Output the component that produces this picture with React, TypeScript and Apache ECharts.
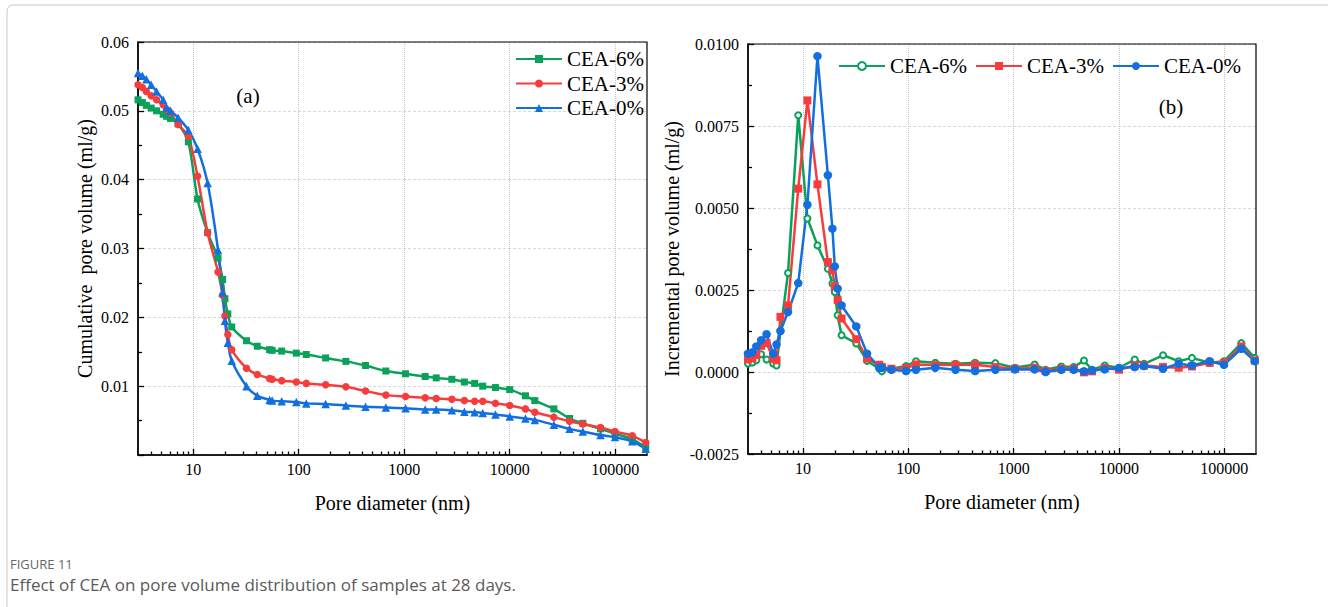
import React, { useEffect, useRef } from "react";
import * as echarts from "echarts";

// Pore diameters (nm) shared by every curve
const diameters = [
  3.0, 3.3, 3.6, 4.0, 4.5, 5.2, 5.6, 6.1, 7.2, 9.0, 11.0, 13.7, 17.2, 19.0, 20.0, 21.3, 23.2, 32, 40.5, 53, 56, 69, 95,
  118, 180, 280, 430, 670, 1030, 1580, 2010, 2830, 3720, 4650, 5550, 7320, 10000, 14100, 17300, 26200, 36900, 49300,
  72600, 99300, 145000, 194500,
];

// (a) Cumulative pore volume (ml/g)
const cumCEA6 = [
  0.0516, 0.0512, 0.0508, 0.0504, 0.05, 0.0495, 0.0492, 0.0489, 0.0481, 0.0455, 0.0372, 0.0323, 0.0286, 0.0255, 0.0227,
  0.0205, 0.0186, 0.0166, 0.0158, 0.0153, 0.0152, 0.0151, 0.0148, 0.0146, 0.0141, 0.0136, 0.013, 0.0122, 0.0118,
  0.0114, 0.0112, 0.011, 0.0106, 0.0104, 0.01, 0.0098, 0.0095, 0.0086, 0.0079, 0.0067, 0.0053, 0.0046, 0.0038, 0.0031,
  0.0023, 0.0011,
];
const cumCEA3 = [
  0.0538, 0.0534, 0.0528, 0.0522, 0.0516, 0.0509, 0.0502, 0.0497, 0.048, 0.0463, 0.0405, 0.0323, 0.0266, 0.0232, 0.0202,
  0.0175, 0.0153, 0.0126, 0.0117, 0.0111, 0.011, 0.0108, 0.0106, 0.0104, 0.0102, 0.0099, 0.0093, 0.0087, 0.0085,
  0.0083, 0.0082, 0.0081, 0.0079, 0.0078, 0.0078, 0.0075, 0.0072, 0.0067, 0.0062, 0.0055, 0.0049, 0.0045, 0.004,
  0.0034, 0.0028, 0.0018,
];
const cumCEA0 = [
  0.0555, 0.0551, 0.0546, 0.0538, 0.0528, 0.0516, 0.0505, 0.05, 0.049, 0.0472, 0.0445, 0.0395, 0.0298, 0.0236, 0.0195,
  0.0163, 0.0137, 0.01, 0.0086, 0.008, 0.0079, 0.0078, 0.0077, 0.0075, 0.0074, 0.0072, 0.007, 0.0069, 0.0068, 0.0066,
  0.0066, 0.0065, 0.0063, 0.0062, 0.0061, 0.0059, 0.0056, 0.0053, 0.0051, 0.0044, 0.0038, 0.0034, 0.0029, 0.0026, 0.002,
  0.0009,
];

// (b) Incremental pore volume (ml/g)
const incCEA6 = [
  0.00026, 0.00029, 0.00036, 0.00054, 0.00038, 0.00026, 0.0002, 0.00125, 0.00302, 0.00783, 0.00468, 0.00386, 0.00315,
  0.0027, 0.00244, 0.00173, 0.00112, 0.00087, 0.00034, 0.0001, 0.00002, 0.0001, 0.00018, 0.00033, 0.00028, 0.00025,
  0.00028, 0.00027, 0.00013, 0.00023, 0.00007, 0.00017, 0.00015, 0.00035, 0.00007, 0.0002, 0.00013, 0.00038, 0.00025,
  0.00051, 0.00033, 0.00043, 0.00028, 0.00033, 0.00088, 0.00043,
];
const incCEA3 = [
  0.00038, 0.00042, 0.00052, 0.0008, 0.00088, 0.0004, 0.00036, 0.00168, 0.00203, 0.00559, 0.00828, 0.00572, 0.00335,
  0.0031, 0.00262, 0.00219, 0.00163, 0.001, 0.00041, 0.00022, 0.00015, 0.0001, 0.00012, 0.00023, 0.00021, 0.00022,
  0.00022, 0.00015, 0.0001, 0.00013, 0.00003, 0.0001, 0.0001, -0.00001, 0.00002, 0.00012, 0.00007, 0.0002, 0.0002,
  0.00015, 0.00013, 0.00017, 0.00028, 0.00028, 0.00078, 0.00035,
];
const incCEA0 = [
  0.00056, 0.0006, 0.00078, 0.00097, 0.00115, 0.00056, 0.00084, 0.00125, 0.00183, 0.00271, 0.0051, 0.00963, 0.006,
  0.00437, 0.00322, 0.00254, 0.00203, 0.00139, 0.00056, 0.00013, 0.00013, 0.00007, 0.00003, 0.00007, 0.00013, 0.00007,
  0.00003, 0.00007, 0.00008, 0.00008, 0.0, 0.00007, 0.00007, 0.00002, 0.00005, 0.00008, 0.00012, 0.00015, 0.00018,
  0.0001, 0.00025, 0.0002, 0.00033, 0.00022, 0.00071, 0.00033,
];

const seriesNames = ["CEA-6%", "CEA-3%", "CEA-0%"];
const xTickValues = [10, 100, 1000, 10000, 100000];
const xMin = 3;
const xMax = 200000;

const GREEN = "#0aa15a";
const RED = "#f73c3c";
const BLUE = "#126fe0";
const SERIF = "'Liberation Serif', 'Times New Roman', serif";
const SANS = "'Open Sans', 'Noto Sans', sans-serif";

const minorXTicks: number[] = [];
for (let p = 1; p <= 100000; p *= 10) {
  for (let m = 2; m <= 9; m++) {
    const v = m * p;
    if (v > xMin && v < xMax) minorXTicks.push(v);
  }
}

const pairs = (xs: number[], ys: number[]) => xs.map((x, i) => [x, ys[i]]);

const black = { color: "#000", width: 1.3 };

function majorX(grid: number) {
  return {
    type: "log",
    gridIndex: grid,
    logBase: 10,
    min: xMin,
    max: xMax,
    position: "bottom",
    name: "Pore diameter (nm)",
    nameLocation: "middle",
    nameGap: 38,
    nameTextStyle: { fontFamily: SERIF, fontSize: 20, color: "#000" },
    axisLine: { show: true, onZero: false, lineStyle: { color: "#000", width: 1.5 } },
    axisTick: { show: true, inside: true, length: 6, customValues: xTickValues, lineStyle: black },
    axisLabel: {
      show: true,
      customValues: xTickValues,
      formatter: (v: number) => String(Math.round(v)),
      fontFamily: SERIF,
      fontSize: 16,
      color: "#000",
      margin: 6,
    },
    splitLine: { show: true, lineStyle: { color: "#c4c4c4", type: "dotted", width: 1 } },
    minorTick: { show: false },
    minorSplitLine: { show: false },
  };
}

function minorX(grid: number) {
  return {
    type: "log",
    gridIndex: grid,
    logBase: 10,
    min: xMin,
    max: xMax,
    position: "bottom",
    axisLine: { show: false, onZero: false },
    axisLabel: { show: false },
    axisTick: { show: true, inside: true, length: 3.5, customValues: minorXTicks, lineStyle: black },
    splitLine: { show: false },
  };
}

export default function App() {
  const ref = useRef<HTMLDivElement>(null);

  useEffect(() => {
    if (!ref.current) return;
    const chart = echarts.init(ref.current, undefined, { renderer: "svg" });

    const option: any = {
      animation: false,
      backgroundColor: "#fff",
      grid: [
        {
          left: 138,
          top: 42,
          width: 509,
          height: 413,
          show: true,
          z: 1,
          borderColor: "#000",
          borderWidth: 1.2,
          containLabel: false,
          outerBoundsMode: "none",
        },
        {
          left: 748,
          top: 44,
          width: 508,
          height: 410,
          show: true,
          z: 1,
          borderColor: "#000",
          borderWidth: 1.2,
          containLabel: false,
          outerBoundsMode: "none",
        },
      ],
      xAxis: [majorX(0), minorX(0), majorX(1), minorX(1)],
      yAxis: [
        {
          type: "value",
          gridIndex: 0,
          min: 0,
          max: 0.06,
          interval: 0.01,
          name: "Cumulative  pore volume (ml/g)",
          nameLocation: "middle",
          nameGap: 43,
          nameTextStyle: { fontFamily: SERIF, fontSize: 20, color: "#000" },
          axisLine: { show: true, onZero: false, lineStyle: { color: "#000", width: 1.5 } },
          axisTick: { show: true, inside: true, length: 6, lineStyle: black },
          minorTick: { show: true, splitNumber: 2, length: 4, lineStyle: black },
          axisLabel: {
            formatter: (v: number) => (Math.abs(v) < 1e-9 ? "" : v.toFixed(2)),
            fontFamily: SERIF,
            fontSize: 16,
            color: "#000",
            margin: 9,
          },
          splitLine: { show: true, lineStyle: { color: "#d8d8d8", width: 1, type: [3, 2] } },
        },
        {
          type: "value",
          gridIndex: 1,
          min: -0.0025,
          max: 0.01,
          interval: 0.0025,
          name: "Incremental pore volume (ml/g)",
          nameLocation: "middle",
          nameGap: 66,
          nameTextStyle: { fontFamily: SERIF, fontSize: 20, color: "#000" },
          axisLine: { show: true, onZero: false, lineStyle: { color: "#000", width: 1.5 } },
          axisTick: { show: true, inside: true, length: 6, lineStyle: black },
          minorTick: { show: true, splitNumber: 2, length: 4, lineStyle: black },
          axisLabel: {
            formatter: (v: number) => v.toFixed(4),
            fontFamily: SERIF,
            fontSize: 16,
            color: "#000",
            margin: 9,
          },
          splitLine: { show: true, lineStyle: { color: "#d8d8d8", width: 1, type: [3, 2] } },
        },
      ],
      legend: [
        {
          orient: "vertical",
          left: 515,
          top: 48.5,
          padding: 0,
          itemWidth: 46,
          itemHeight: 10,
          itemGap: 3.5,
          selectedMode: false,
          data: seriesNames,
          textStyle: { fontFamily: SERIF, fontSize: 21, color: "#000" },
        },
        {
          orient: "horizontal",
          left: 838,
          top: 55.5,
          padding: 0,
          itemWidth: 46,
          itemHeight: 10,
          itemGap: 8,
          selectedMode: false,
          data: seriesNames.map((n) => "b-" + n),
          formatter: (n: string) => n.slice(2),
          textStyle: { fontFamily: SERIF, fontSize: 21, color: "#000" },
        },
      ],
      series: [
        {
          type: "line",
          name: seriesNames[0],
          xAxisIndex: 0,
          yAxisIndex: 0,
          data: pairs(diameters, cumCEA6),
          symbol: "rect",
          symbolSize: 7,
          smooth: 0.25,
          lineStyle: { color: GREEN, width: 2.5 },
          itemStyle: { color: GREEN },
        },
        {
          type: "line",
          name: seriesNames[1],
          xAxisIndex: 0,
          yAxisIndex: 0,
          data: pairs(diameters, cumCEA3),
          symbol: "circle",
          symbolSize: 7.5,
          smooth: 0.25,
          lineStyle: { color: RED, width: 2.5 },
          itemStyle: { color: RED },
        },
        {
          type: "line",
          name: seriesNames[2],
          xAxisIndex: 0,
          yAxisIndex: 0,
          data: pairs(diameters, cumCEA0),
          symbol: "triangle",
          symbolSize: 8.5,
          smooth: 0.25,
          lineStyle: { color: BLUE, width: 2.5 },
          itemStyle: { color: BLUE },
        },
        {
          type: "line",
          name: "b-" + seriesNames[0],
          xAxisIndex: 2,
          yAxisIndex: 1,
          data: pairs(diameters, incCEA6),
          symbol: "emptyCircle",
          symbolSize: 6,
          lineStyle: { color: GREEN, width: 2.5 },
          itemStyle: { color: GREEN, borderWidth: 3 },
        },
        {
          type: "line",
          name: "b-" + seriesNames[1],
          xAxisIndex: 2,
          yAxisIndex: 1,
          data: pairs(diameters, incCEA3),
          symbol: "rect",
          symbolSize: 8,
          lineStyle: { color: RED, width: 2.5 },
          itemStyle: { color: RED },
        },
        {
          type: "line",
          name: "b-" + seriesNames[2],
          xAxisIndex: 2,
          yAxisIndex: 1,
          data: pairs(diameters, incCEA0),
          symbol: "circle",
          symbolSize: 8.5,
          lineStyle: { color: BLUE, width: 2.5 },
          itemStyle: { color: BLUE },
        },
      ],
      graphic: [
        {
          type: "rect",
          silent: true,
          shape: { x: 7, y: 5, width: 1340, height: 700, r: 6 },
          style: { fill: "none", stroke: "#c8c8c8", lineWidth: 1 },
        },
        {
          type: "text",
          x: 248,
          y: 96,
          style: { text: "(a)", fontFamily: SERIF, fontSize: 21, fill: "#000", align: "center", verticalAlign: "middle" },
        },
        {
          type: "text",
          x: 1171,
          y: 107,
          style: { text: "(b)", fontFamily: SERIF, fontSize: 21, fill: "#000", align: "center", verticalAlign: "middle" },
        },
        {
          type: "text",
          x: 10,
          y: 564,
          style: { text: "FIGURE 11", fontFamily: SANS, fontSize: 13, fill: "#666", verticalAlign: "middle" },
        },
        {
          type: "text",
          x: 10,
          y: 584,
          style: {
            text: "Effect of CEA on pore volume distribution of samples at 28 days.",
            fontFamily: SANS,
            fontSize: 17,
            fill: "#5a5a5a",
            verticalAlign: "middle",
          },
        },
      ],
    };

    chart.setOption(option);
    return () => chart.dispose();
  }, []);

  return (
    <div
      ref={ref}
      style={{ position: "absolute", left: 0, top: 0, width: 1328, height: 607, background: "#fff" }}
    />
  );
}
